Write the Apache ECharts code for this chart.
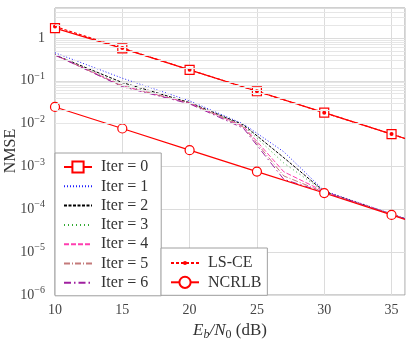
<!DOCTYPE html>
<html>
<head>
<meta charset="utf-8">
<title>NMSE vs Eb/N0</title>
<script src="https://cdn.jsdelivr.net/npm/echarts@6/dist/echarts.min.js"></script>
<style>
  html, body { margin: 0; padding: 0; background: #fff; }
  #chart { width: 407px; height: 340px; }
</style>
</head>
<body>
<div id="chart"></div>
<script>
// data (NMSE, linear scale)
var snr = [10, 15, 20, 25, 30, 35, 36];
var snrIter = [10, 15, 20, 24, 27, 30, 35, 36];
var iter0 = [1.7, 0.57, 0.18, 0.057, 0.018, 0.0057, 0.0045];
var lsce  = [1.85, 0.58, 0.18, 0.057, 0.018, 0.0057, 0.0045];
var ncrlb = [0.0245, 0.0077, 0.0024, 0.00076, 0.00024, 0.000074, 0.000058];
var iter1 = [0.45, 0.115, 0.034, 0.0098, 0.0022, 0.00027, 0.000078, 0.000061];
var iter2 = [0.40, 0.091, 0.031, 0.0094, 0.0016, 0.00026, 0.000077, 0.00006];
var iter3 = [0.40, 0.080, 0.030, 0.0090, 0.0012, 0.00026, 0.000077, 0.00006];
var iter4 = [0.40, 0.077, 0.030, 0.0087, 0.00075, 0.00026, 0.000077, 0.00006];
var iter5 = [0.40, 0.075, 0.030, 0.0083, 0.0006, 0.00025, 0.000076, 0.00006];
var iter6 = [0.40, 0.073, 0.029, 0.0078, 0.0005, 0.00025, 0.000076, 0.00006];
var markerSnr = [10, 15, 20, 25, 30, 35];
var xTicks = [10, 15, 20, 25, 30, 35];

var serif = 'Liberation Serif';
// small dot inside an 11x11 box, so legend and plot marks stay small
var dotPath = 'path://M0,0L0.01,0L0,0.01ZM11,11L10.99,11L11,10.99ZM7.5,5.5A2,2,0,1,1,3.5,5.5A2,2,0,1,1,7.5,5.5Z';

function pairs(xs, ys, sym) {
  return xs.map(function (x, i) {
    var item = { value: [x, ys[i]] };
    if (sym && markerSnr.indexOf(x) < 0) item.symbol = 'none';
    return item;
  });
}

// minor grid lines 2..9 per decade
var minor = [];
for (var d = -6; d <= 0; d++) {
  for (var k = 2; k <= 9; k++) {
    var v = k * Math.pow(10, d);
    if (v < 5) minor.push({ yAxis: v });
  }
}

function thin(name, xs, ys, color, dash) {
  return {
    name: name, type: 'line', data: pairs(xs, ys, false),
    showSymbol: false, symbol: 'none',
    lineStyle: { color: color, width: 1, type: dash },
    itemStyle: { color: color }
  };
}

var legendText = { fontFamily: serif, fontSize: 16, color: '#333', padding: [0, 0, 0, 4] };
var noMark = { opacity: 0 };

var chart = echarts.init(document.getElementById('chart'));
chart.setOption({
  backgroundColor: '#fff',
  animation: false,
  grid: {
    left: 55, right: 2, top: 8, bottom: 45, containLabel: false, outerBoundsMode: 'none',
    show: true, borderColor: '#a0a0a0', borderWidth: 1
  },
  // y axis title, placed by hand (axis name gets pushed off the canvas)
  graphic: [{
    type: 'text', x: 11, y: 151, rotation: Math.PI / 2, silent: true,
    style: {
      text: 'NMSE', align: 'center', verticalAlign: 'middle',
      font: '16px "Liberation Serif"', fill: '#333'
    }
  }],
  xAxis: {
    type: 'value', min: 10, max: 36, interval: 5,
    name: '{i|E}{sb|b}{i|/N}{s0|0}{n| (dB)}',
    nameLocation: 'middle', nameGap: 24,
    nameTextStyle: {
      rich: {
        i: { fontFamily: serif, fontStyle: 'italic', fontSize: 17, color: '#333' },
        sb: { fontFamily: serif, fontStyle: 'italic', fontSize: 12, color: '#333', padding: [8, 0, 0, 0] },
        s0: { fontFamily: serif, fontSize: 12, color: '#333', padding: [8, 0, 0, 0] },
        n: { fontFamily: serif, fontSize: 17, color: '#333' }
      }
    },
    axisLine: { show: false },
    axisTick: { show: false },
    axisLabel: {
      fontFamily: serif, fontSize: 14, color: '#444', margin: 8,
      formatter: function (v) { return xTicks.indexOf(v) >= 0 ? String(v) : ''; }
    },
    splitLine: { show: true, lineStyle: { color: '#dcdcdc', width: 1 } }
  },
  yAxis: {
    type: 'log', logBase: 10, min: 1e-6, max: 5,
    axisLine: { show: false },
    axisTick: { show: false },
    axisLabel: {
      margin: 10, align: 'right',
      formatter: function (v) {
        var e = Math.log10(v);
        if (Math.abs(e - Math.round(e)) > 1e-6) return '';
        e = Math.round(e);
        if (e === 0) return '{b|1}';
        return '{b|10}{s|' + (e < 0 ? '\u2212' : '') + Math.abs(e) + '}';
      },
      rich: {
        b: { fontFamily: serif, fontSize: 14, color: '#444' },
        s: { fontFamily: serif, fontSize: 10, color: '#444', padding: [0, 0, 9, 0] }
      }
    },
    splitLine: { show: true, lineStyle: { color: '#dcdcdc', width: 1 } }
  },
  legend: [
    {
      orient: 'vertical', left: 55, top: 153,
      padding: [6, 13, 5, 8], itemGap: 3.3, itemWidth: 28, itemHeight: 14,
      backgroundColor: '#fff', borderColor: '#a0a0a0', borderWidth: 1, borderRadius: 0,
      textStyle: legendText,
      data: [
        'Iter = 0',
        { name: 'Iter = 1', itemStyle: noMark },
        { name: 'Iter = 2', itemStyle: noMark },
        { name: 'Iter = 3', itemStyle: noMark },
        { name: 'Iter = 4', itemStyle: noMark },
        { name: 'Iter = 5', itemStyle: noMark },
        { name: 'Iter = 6', itemStyle: noMark }
      ]
    },
    {
      orient: 'vertical', left: 161, top: 248,
      padding: [7, 6, 5, 9], itemGap: 3.3, itemWidth: 28, itemHeight: 14,
      backgroundColor: '#fff', borderColor: '#a0a0a0', borderWidth: 1, borderRadius: 0,
      textStyle: legendText,
      data: ['LS-CE', 'NCRLB']
    }
  ],
  series: [
    {
      name: 'grid-minor', type: 'line', data: [], z: 1, silent: true,
      markLine: {
        silent: true, symbol: ['none', 'none'], label: { show: false },
        lineStyle: { color: '#e6e6e6', width: 1, type: 'solid' },
        data: minor
      }
    },
    {
      name: 'Iter = 0', type: 'line', data: pairs(snr, iter0, true),
      symbol: 'rect', symbolSize: 9,
      lineStyle: { color: '#ff0000', width: 1.2 },
      itemStyle: { color: '#fff', borderColor: '#ff0000', borderWidth: 1.2 }
    },
    thin('Iter = 1', snrIter, iter1, '#2020ff', [1, 2]),
    thin('Iter = 2', snrIter, iter2, '#000000', [3, 1.5]),
    thin('Iter = 3', snrIter, iter3, '#33aa33', [1, 3]),
    thin('Iter = 4', snrIter, iter4, '#ff3eb0', [5, 2]),
    thin('Iter = 5', snrIter, iter5, '#c47a7a', [6, 2, 1, 2]),
    thin('Iter = 6', snrIter, iter6, '#a020a0', [7, 3, 1.5, 3]),
    {
      name: 'LS-CE', type: 'line', data: pairs(snr, lsce, true),
      symbol: dotPath, symbolSize: 11,
      lineStyle: { color: '#ff0000', width: 1.2, type: [3, 2] },
      itemStyle: { color: '#ff0000' }
    },
    {
      name: 'NCRLB', type: 'line', data: pairs(snr, ncrlb, true),
      symbol: 'circle', symbolSize: 9,
      lineStyle: { color: '#ff0000', width: 1.2 },
      itemStyle: { color: '#fff', borderColor: '#ff0000', borderWidth: 1.2 }
    }
  ]
});
</script>
</body>
</html>
